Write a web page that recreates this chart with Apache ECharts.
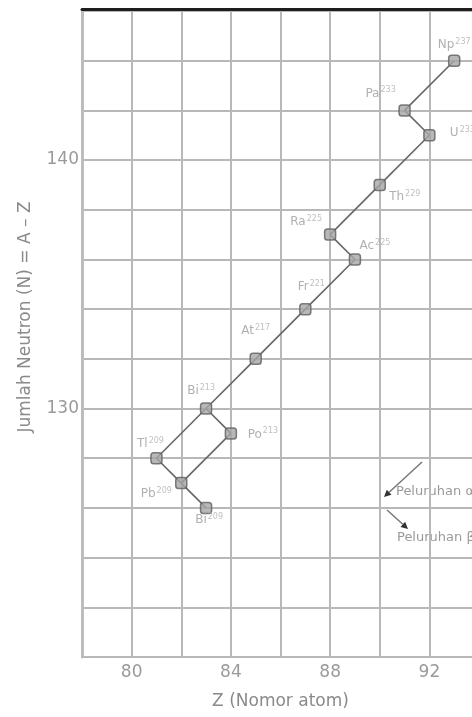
<!DOCTYPE html>
<html>
<head>
<meta charset="utf-8">
<script src="https://cdn.jsdelivr.net/npm/echarts@6/dist/echarts.min.js"></script>
<style>
    html, body { margin: 0; padding: 0; background: #fff; }
    #chart { width: 472px; height: 717px; }
</style>
</head>
<body>
<div id="chart"></div>
<script>
// deret peluruhan neptunium, Z vs N
const elements = ['Np', 'Pa', 'U', 'Th', 'Ra', 'Ac', 'Fr', 'At', 'Bi', 'Po', 'Tl', 'Pb', 'Bi']
const massNumbers = [237, 233, 233, 229, 225, 225, 221, 217, 213, 213, 209, 209, 209]
const protonNumbers = [93, 91, 92, 90, 88, 89, 87, 85, 83, 84, 81, 82, 83]
const neutronNumbers = [144, 142, 141, 139, 137, 136, 134, 132, 130, 129, 128, 127, 126]
// pasangan indeks: induk -> anak
const decays = [[0, 1], [1, 2], [2, 3], [3, 4], [4, 5], [5, 6], [6, 7], [7, 8], [8, 10], [8, 9], [10, 11], [9, 11], [11, 12]]
const xTickLabels = [80, 84, 88, 92]
const yTickLabels = [130, 140]

// letak label tiap nuklida (gaya saja)
const labelOffsets = [[0, -16], [-24, -17], [33, -2], [25, 12], [-24, -13], [20, -14], [6, -22],
    [0, -28], [-5, -18], [32, 1], [-6, -14], [-25, 11], [3, 12]]

const FONT = 'DejaVu Sans'
const GRID_COLOR = '#b8b8b8'

let chart = echarts.init(document.getElementById('chart'))

const pointData = protonNumbers.map((z, i) => {
    return {
        value: [z, neutronNumbers[i]],
        label: {
            offset: labelOffsets[i],
            formatter: '{a|' + elements[i] + '}{s|' + massNumbers[i] + '}'
        }
    }
})

const decayLines = decays.map(pair => {
    let a = pair[0], b = pair[1]
    return {
        coords: [[protonNumbers[a], neutronNumbers[a]], [protonNumbers[b], neutronNumbers[b]]]
    }
})

function arrow (x1, y1, x2, y2) {
    let ang = Math.atan2(y2 - y1, x2 - x1),
        len = 7, w = 3.5
    let bx = x2 - len * Math.cos(ang), by = y2 - len * Math.sin(ang)
    let nx = -Math.sin(ang) * w, ny = Math.cos(ang) * w
    return [
        { type: 'line', shape: { x1: x1, y1: y1, x2: bx, y2: by }, style: { stroke: '#777', lineWidth: 1.5 } },
        { type: 'polygon', shape: { points: [[x2, y2], [bx + nx, by + ny], [bx - nx, by - ny]] }, style: { fill: '#333' } }
    ]
}

chart.setOption({
    animation: false,
    textStyle: { fontFamily: FONT },
    grid: { left: 82, top: 11, width: 397, bottom: 60, outerBoundsMode: 'none', containLabel: false },
    xAxis: [
        {
            type: 'value',
            min: 78,
            max: 94,
            interval: 2,
            name: 'Z (Nomor atom)',
            nameLocation: 'middle',
            nameGap: 36,
            nameTextStyle: { color: '#8a8a8a', fontSize: 17, fontFamily: FONT },
            axisLine: { show: true, lineStyle: { color: GRID_COLOR, width: 2 } },
            axisTick: { show: false },
            axisLabel: {
                color: '#9a9a9a',
                fontSize: 17,
                margin: 7,
                formatter: v => xTickLabels.indexOf(v) > -1 ? String(v) : ''
            },
            splitLine: { show: true, lineStyle: { color: GRID_COLOR, width: 2 } }
        },
        {
            // garis hitam di atas
            type: 'value',
            position: 'top',
            min: 78,
            max: 94,
            offset: 2,
            axisLine: { show: true, lineStyle: { color: '#1e1e1e', width: 3 } },
            axisTick: { show: false },
            axisLabel: { show: false },
            splitLine: { show: false }
        }
    ],
    yAxis: {
        type: 'value',
        min: 120,
        max: 146,
        interval: 2,
        name: 'Jumlah Neutron (N) = A \u2013 Z',
        nameLocation: 'middle',
        nameGap: 48,
        nameTextStyle: { color: '#8a8a8a', fontSize: 17, fontFamily: FONT, padding: [0, 0, 0, 34] },
        axisLine: { show: true, lineStyle: { color: '#bdbdbd', width: 3 } },
        axisTick: { show: false },
        axisLabel: {
            color: '#9a9a9a',
            fontSize: 17,
            margin: 3,
            formatter: v => yTickLabels.indexOf(v) > -1 ? String(v) : ''
        },
        splitLine: { show: true, lineStyle: { color: GRID_COLOR, width: 2 } }
    },
    series: [
        {
            type: 'lines',
            coordinateSystem: 'cartesian2d',
            z: 2,
            lineStyle: { color: '#666', width: 1.6, opacity: 1 },
            data: decayLines
        },
        {
            type: 'scatter',
            z: 3,
            symbol: 'roundRect',
            symbolSize: 11,
            itemStyle: { color: '#a6a6a6', borderColor: '#5e5e5e', borderWidth: 1.5 },
            label: {
                show: true,
                position: 'inside',
                rich: {
                    a: { fontSize: 12, color: '#9c9c9c', fontFamily: FONT },
                    s: { fontSize: 8, color: '#b0b0b0', fontFamily: FONT, padding: [0, 0, 6, 1] }
                }
            },
            data: pointData
        }
    ],
    graphic: [
        ...arrow(422, 462, 384, 497),
        ...arrow(387, 510, 408, 529),
        { type: 'text', left: 396, top: 485, style: { text: 'Peluruhan \u03b1', fill: '#9a9a9a', font: '13px "DejaVu Sans"' } },
        { type: 'text', left: 397, top: 531, style: { text: 'Peluruhan \u03b2', fill: '#9a9a9a', font: '13px "DejaVu Sans"' } }
    ]
})
</script>
</body>
</html>
